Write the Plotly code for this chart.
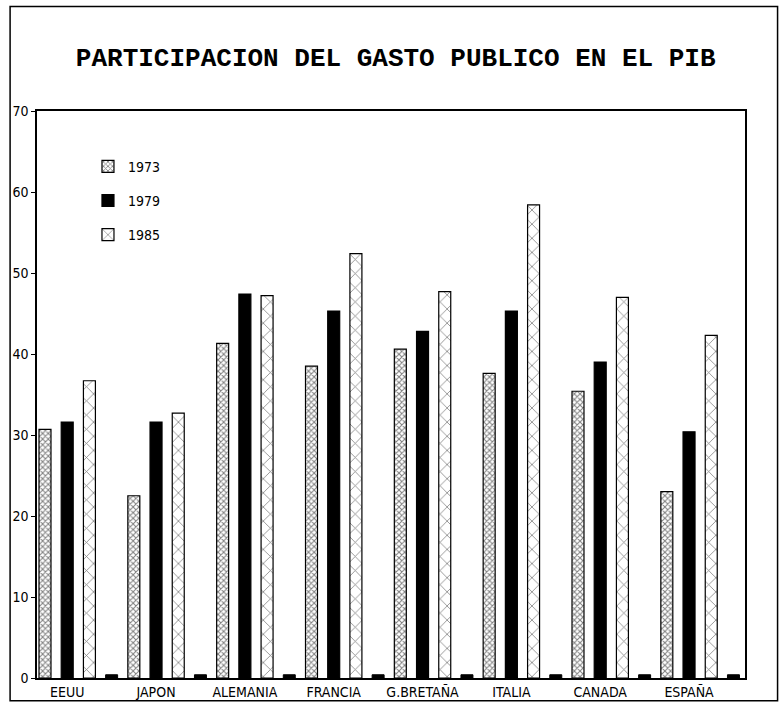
import plotly.graph_objects as go

paises = ["EEUU", "JAPON", "ALEMANIA", "FRANCIA", "G.BRETAÑA", "ITALIA", "CANADA", "ESPAÑA"]
anio_1973 = [30.7, 22.5, 41.3, 38.5, 40.6, 37.6, 35.4, 23.0]
anio_1979 = [31.6, 31.6, 47.4, 45.3, 42.8, 45.3, 39.0, 30.4]
anio_1985 = [36.7, 32.7, 47.2, 52.4, 47.7, 58.4, 47.0, 42.3]
marcas_base = [0.4, 0.4, 0.4, 0.4, 0.4, 0.4, 0.4, 0.4]
y_ticks = [0, 10, 20, 30, 40, 50, 60, 70]

label_font = dict(family="Liberation Sans Narrow, DejaVu Sans Condensed, Arial Narrow, sans-serif",
                  size=14, color="black")

W = 0.135
fig = go.Figure()
fig.add_trace(go.Bar(
    x=paises, y=anio_1973, name="1973", legendgroup="a",
    width=W, offset=-0.25 - W / 2,
    marker=dict(color="white", line=dict(color="black", width=1.2),
                pattern=dict(shape="x", size=4, solidity=0.45, fgcolor="black", bgcolor="white"))))
fig.add_trace(go.Bar(
    x=paises, y=anio_1979, name="1979", legendgroup="b",
    width=W, offset=-W / 2,
    marker=dict(color="black", line=dict(color="black", width=1.2))))
fig.add_trace(go.Bar(
    x=paises, y=anio_1985, name="1985", legendgroup="c",
    width=W, offset=0.25 - W / 2,
    marker=dict(color="white", line=dict(color="black", width=1.2),
                pattern=dict(shape="x", size=10, solidity=0.15, fgcolor="black", bgcolor="white"))))
fig.add_trace(go.Bar(
    x=paises, y=marcas_base, name="", showlegend=False,
    width=W, offset=0.5 - W / 2,
    marker=dict(color="black", line=dict(color="black", width=1)), hoverinfo="skip"))

fig.update_layout(
    width=779, height=712,
    margin=dict(l=37, r=34, t=111, b=32),
    paper_bgcolor="white", plot_bgcolor="white",
    barmode="overlay",
    title=dict(text="<b>PARTICIPACION DEL GASTO PUBLICO EN EL PIB</b>",
               x=0.508, xanchor="center", y=0.92, yanchor="middle",
               font=dict(family="Liberation Mono, Courier New, monospace", size=26, color="black")),
    legend=dict(x=0.072, y=0.93, xanchor="left", yanchor="top",
                bgcolor="rgba(0,0,0,0)", font=label_font, tracegroupgap=13),
    showlegend=True,
    xaxis=dict(range=[-0.34, 7.63], showline=True, linecolor="black", linewidth=1.5,
               mirror=True, ticks="", tickfont=label_font, showgrid=False, zeroline=False),
    yaxis=dict(range=[0, 70], tickvals=y_ticks, showline=True, linecolor="black", linewidth=1.5,
               mirror=True, ticks="outside", ticklen=4, tickcolor="black",
               tickfont=label_font, showgrid=False, zeroline=False),
    shapes=[dict(type="rect", xref="paper", yref="paper",
                 x0=-0.038, x1=1.046, y0=-0.040, y1=1.1845,
                 line=dict(color="black", width=1.5), fillcolor="rgba(0,0,0,0)", layer="below")],
)

fig.write_html("out.html",
               config={"displayModeBar": False},
               post_script="document.body.style.margin='0';document.body.style.overflow='hidden';")
